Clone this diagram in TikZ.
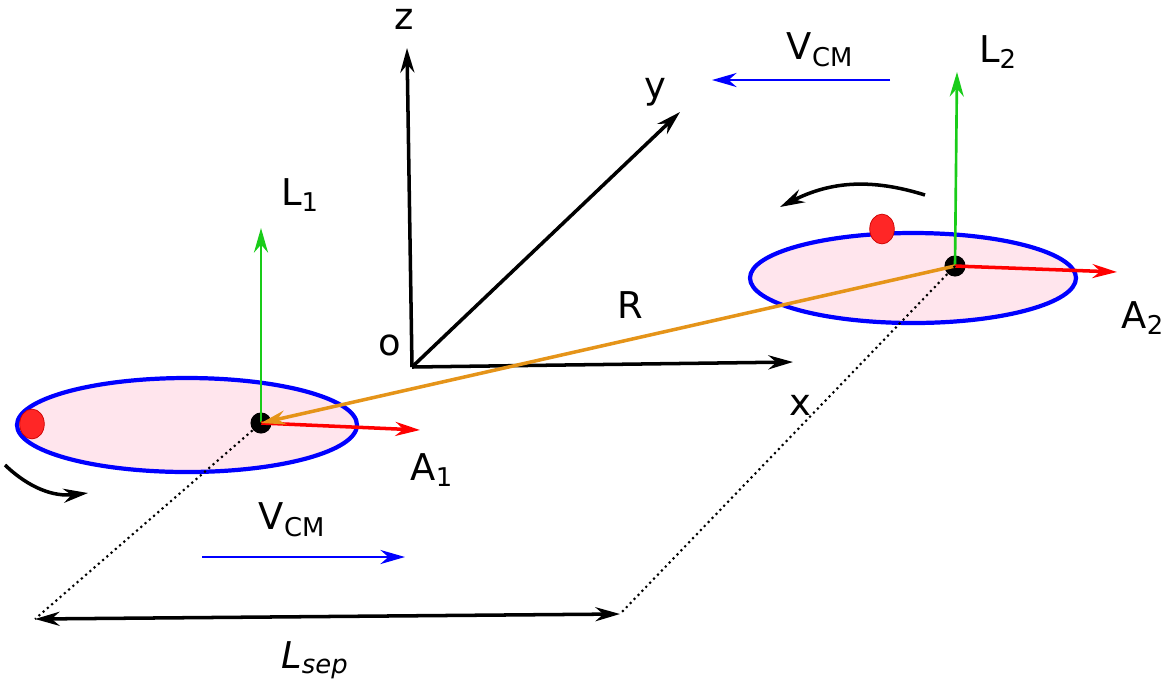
\documentclass[tikz,border=0pt]{standalone}
\usepackage{fontspec}
\setmainfont{DejaVu Sans}
\usetikzlibrary{arrows.meta,positioning,shapes.geometric}
\definecolor{diskpink}{rgb}{1.0, 0.9, 0.93}
\definecolor{rorange}{rgb}{0.9, 0.58, 0.1}
\definecolor{lgreen}{rgb}{0.1, 0.8, 0.1}
\newcommand{\sub}[1]{\textsubscript{#1}}
\tikzset{
  lbl/.style={font=\fontsize{21}{25}\selectfont, inner sep=1pt},
  disk/.style={draw=blue, fill=diskpink, line width=2.4pt},
  vec/.style={-{Stealth[length=14pt,width=8pt]}, line width=1.5pt},
  spot/.style={circle, fill=black, minimum size=12pt, inner sep=0pt},
  dotmark/.style={ellipse, fill=red!85!white, draw=red!80!black, minimum width=14pt, minimum height=17pt, inner sep=0pt}
}
\begin{document}
\begin{tikzpicture}[x=0.02cm, y=-0.02cm]
            \useasboundingbox (0,0) rectangle (1166,681);
            % disk 1
            \draw[disk] (187,425) ellipse (170 and 47);
            \node[spot] (c1) at (261,423) {};
            \node[dotmark] (m1) at (32,424) {};
            \coordinate (l1) at (261,228);
            \coordinate (a1) at (420,430);
            \draw[vec,lgreen] (c1.center) -- (l1);
            \draw[vec,red,line width=2pt] (c1.center) -- (a1);
            \node[lbl] (tl1) at (300,195) {L\sub{1}};
            \node[lbl] (ta1) at (432,470) {A\sub{1}};
            \coordinate (r1s) at (5,465);
            \coordinate (r1e) at (88,493);
            \draw[vec,black,line width=2pt] (r1s) to[bend right=25] (r1e);
            % disk 2
            \draw[disk] (913,278) ellipse (163 and 45);
            \node[dotmark] (m2) at (882,229) {};
            \node[spot] (c2) at (955,266) {};
            \coordinate (l2) at (957,72);
            \coordinate (a2) at (1117,272);
            \draw[vec,lgreen] (c2.center) -- (l2);
            \draw[vec,red,line width=2pt] (c2.center) -- (a2);
            \node[lbl] (tl2) at (998,52) {L\sub{2}};
            \node[lbl] (ta2) at (1143,318) {A\sub{2}};
            \coordinate (r2s) at (925,195);
            \coordinate (r2e) at (780,207);
            \draw[vec,black,line width=2pt] (r2s) to[bend right=22] (r2e);
            % axes
            \coordinate (o) at (412,367);
            \coordinate (z) at (407,48);
            \coordinate (y) at (680,112);
            \coordinate (x) at (793,362);
            \draw[vec,line width=2pt] (o) -- (z);
            \draw[vec,line width=2pt] (o) -- (y);
            \draw[vec,line width=2pt] (o) -- (x);
            \node[lbl] (tz) at (404,19) {z};
            \node[lbl] (ty) at (655,92) {y};
            \node[lbl] (tx) at (800,405) {x};
            \node[lbl] (to) at (390,345) {o};
            % separation
            \draw[vec,rorange,line width=2pt] (c2.center) -- (c1.center);
            \node[lbl] (tr) at (630,305) {R};
            \coordinate (s1) at (35,619);
            \coordinate (s2) at (620,614);
            \draw[dotted,line width=1.2pt] (c1.center) -- (s1);
            \draw[dotted,line width=1.2pt] (c2.center) -- (s2);
            \draw[{Stealth[length=14pt,width=8pt]}-{Stealth[length=14pt,width=8pt]},line width=2pt] (s1) -- (s2);
            \node[lbl] (tsep) at (315,660) {\textit{L}\sub{\textit{sep}}};
            % velocities
            \coordinate (v1s) at (202,557);
            \coordinate (v1e) at (405,557);
            \draw[vec,blue] (v1s) -- (v1e);
            \node[lbl] (tv1) at (292,520) {V\sub{CM}};
            \coordinate (v2s) at (890,80);
            \coordinate (v2e) at (712,80);
            \draw[vec,blue] (v2s) -- (v2e);
            \node[lbl] (tv2) at (820,50) {V\sub{CM}};
\end{tikzpicture}
\end{document}
